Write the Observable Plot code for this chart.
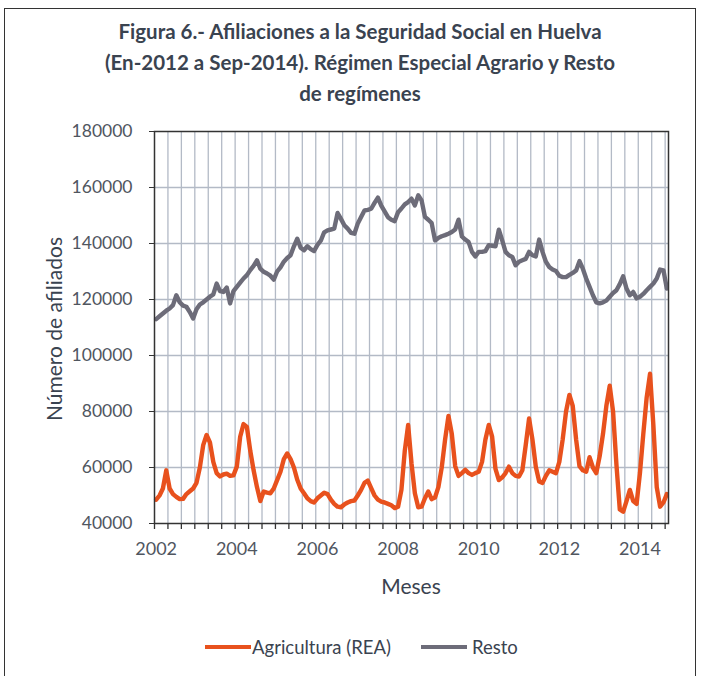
<!DOCTYPE html>
<html>
<head>
<meta charset="utf-8">
<script src="https://cdn.jsdelivr.net/npm/d3@7"></script>
<script src="https://cdn.jsdelivr.net/npm/@observablehq/plot@0.6"></script>
<style>
  html, body { margin: 0; padding: 0; background: #fff; }
  #page { position: relative; width: 702px; height: 676px; overflow: hidden; font-family: Lato, "Open Sans", sans-serif; }
  #border { position: absolute; left: 4px; top: 8px; width: 692px; height: 700px; border: 1.5px solid #333; box-sizing: border-box; }
  #title { position: absolute; left: 0; top: 16px; width: 720px; text-align: center; font-weight: 700; font-size: 20.5px; line-height: 31px; color: #3a4350; letter-spacing: 0px; }
  #chart { position: absolute; left: 0; top: 120px; }
  #ytitle { position: absolute; left: 53px; top: 329px; transform: translate(-50%, -50%) rotate(-90deg); white-space: nowrap; font-size: 21px; color: #3a4350; }
  #xtitle { position: absolute; left: 411px; top: 585px; transform: translate(-50%, -50%); font-size: 21px; color: #3a4350; }
  .sw { position: absolute; height: 4px; top: 645px; }
  .lg { position: absolute; top: 647px; transform: translateY(-50%); font-size: 18.5px; color: #3a4350; white-space: nowrap; }
</style>
</head>
<body>
<div id="page">
  <div id="border"></div>
  <div id="title"></div>
  <div id="chart"></div>
  <div id="ytitle"></div>
  <div id="xtitle"></div>
  <div id="legend"></div>
</div>
<script>
// ---- Data (monthly, Jan 2002 .. Sep 2014) ----
const titleLines = [
  "Figura 6.- Afiliaciones a la Seguridad Social en Huelva",
  "(En-2012 a Sep-2014). Régimen Especial Agrario y Resto",
  "de regímenes"
];
const yAxisTitle = "Número de afiliados";
const xAxisTitle = "Meses";
const seriesNames = ["Agricultura (REA)", "Resto"];
const seriesColors = ["#e8511d", "#6d6c79"];
const startYear = 2002;
const yearLabels = [2002, 2004, 2006, 2008, 2010, 2012, 2014];
const yTicks = [40000, 60000, 80000, 100000, 120000, 140000, 160000, 180000];

const agricultura = [
  // 2002
  48500, 50000, 52500, 59000, 52500, 50500, 49500, 48700, 48800, 50500, 51500, 52500,
  // 2003
  54500, 60000, 68000, 71600, 69000, 62000, 58000, 56800, 57500, 57800, 57000, 57200,
  // 2004
  60300, 71000, 75500, 74500, 66000, 59000, 53000, 48000, 51400, 51000, 50800, 52500,
  // 2005
  55500, 58500, 63000, 65000, 63000, 60000, 55600, 52500, 50800, 49000, 48000, 47500,
  // 2006
  49000, 50000, 51000, 50500, 48500, 47000, 46000, 45800, 46800, 47500, 48000, 48200,
  // 2007
  50000, 52000, 54500, 55300, 52600, 50000, 48500, 47800, 47500, 47000, 46500, 45500,
  // 2008
  46000, 52000, 66000, 75200, 61500, 50800, 45800, 46000, 49000, 51400, 48700, 49300,
  // 2009
  53000, 60000, 70000, 78400, 72000, 60500, 57000, 58000, 59150, 58000, 57350, 58000,
  // 2010
  58500, 62000, 70000, 75200, 71000, 59500, 55500, 56500, 58000, 60300, 58000, 57000,
  // 2011
  56800, 59000, 68000, 77500, 70000, 60300, 55000, 54500, 57000, 59000, 58500, 58000,
  // 2012
  62000, 70000, 80000, 85900, 82000, 70000, 60500, 59000, 58500, 63700, 60000, 58000,
  // 2013
  64000, 72000, 82000, 89200, 80000, 61000, 45000, 44200, 48000, 52000, 48000, 47000,
  // 2014 (Jan-Sep)
  58000, 72000, 85000, 93500, 75000, 53000, 46000, 47500, 50500
];

const resto = [
  // 2002
  113000, 114000, 115000, 116000, 116800, 118000, 121500, 119000, 117800, 117400, 115500, 113200,
  // 2003
  116500, 118200, 119000, 120000, 121000, 121800, 125700, 123000, 122700, 124300, 118600, 123000,
  // 2004
  124500, 126000, 127500, 128700, 130500, 132000, 134000, 131000, 129900, 129300, 128500, 127100,
  // 2005
  130000, 131500, 133500, 134800, 135800, 139000, 141700, 138500, 137600, 139000, 138000, 137300,
  // 2006
  139500, 141000, 144000, 144700, 145000, 145300, 150900, 148800, 146500, 145300, 143800, 143500,
  // 2007
  147100, 149500, 151800, 152000, 152400, 154500, 156400, 153500, 151500, 149400, 148500, 148000,
  // 2008
  151200, 152500, 154000, 154800, 156000, 153600, 157200, 155400, 149500, 148500, 147300, 141100,
  // 2009
  142000, 142600, 143000, 143500, 144100, 145000, 148500, 142500, 141400, 140500, 137000, 135400,
  // 2010
  137000, 137000, 137300, 139400, 139200, 139000, 144900, 141100, 137000, 135800, 135200, 132200,
  // 2011
  133500, 134000, 134500, 137000, 135800, 135400, 141400, 137000, 133500, 131600, 130700, 130200,
  // 2012
  128500, 128000, 128000, 128800, 129500, 130400, 133700, 131000, 127500, 124500, 121500, 119000,
  // 2013
  118600, 119000, 119600, 121000, 122300, 123300, 125500, 128300, 123900, 121500, 122700, 120400,
  // 2014 (Jan-Sep)
  121000, 122000, 123300, 124500, 125700, 127500, 130700, 130400, 123900
];

// ---- Build ----
document.getElementById("title").innerHTML = titleLines.map(t => `<div>${t}</div>`).join("");
document.getElementById("ytitle").textContent = yAxisTitle;
document.getElementById("xtitle").textContent = xAxisTitle;

const nMonths = agricultura.length;
const rows = [
  ...agricultura.map((v, i) => ({m: i + 0.5, value: v, series: seriesNames[0]})),
  ...resto.map((v, i) => ({m: i + 0.5, value: v, series: seriesNames[1]}))
];
const monthTicks = d3.range(0, nMonths + 1, 4);
const yearPos = yearLabels.map(y => (y - startYear) * 12 + 0.5);

const chart = Plot.plot({
  width: 702,
  height: 500,
  marginTop: 11,
  marginBottom: 97,
  marginLeft: 154,
  marginRight: 34,
  style: {fontFamily: "Lato, 'Open Sans', sans-serif", fontSize: "17.5px", color: "#50565f", background: "transparent"},
  x: {domain: [0, nMonths], label: null},
  y: {domain: [40000, 180000], label: null},
  color: {domain: seriesNames, range: seriesColors},
  marks: [
    Plot.gridX(monthTicks.filter(d => d > 0 && d < nMonths), {stroke: "#b3bac6", strokeOpacity: 1, strokeWidth: 1.3}),
    Plot.gridY(yTicks.slice(1, -1), {stroke: "#b3bac6", strokeOpacity: 1, strokeWidth: 1.3}),
    Plot.line(rows, {x: "m", y: "value", z: "series", stroke: "series", strokeWidth: 4.4, strokeLinejoin: "round", strokeLinecap: "round", curve: "linear"}),
    Plot.frame({stroke: "#333", strokeWidth: 1.5}),
    Plot.axisX(monthTicks, {tickSize: 6, tickFormat: () => "", stroke: "#333", strokeWidth: 1.3}),
    Plot.axisX(yearPos, {tickSize: 0, tickPadding: 19, tickFormat: (d, i) => String(yearLabels[i]), fontSize: 18}),
    Plot.axisY(yTicks, {tickSize: 5, tickPadding: 17, tickFormat: d => String(d), stroke: "#333", fontSize: 17.5})
  ]
});
document.getElementById("chart").appendChild(chart);

// Legend
const legend = document.getElementById("legend");
const legendPos = [{sw: 205, tx: 252}, {sw: 421, tx: 472}];
seriesNames.forEach((name, i) => {
  const s = document.createElement("div");
  s.className = "sw";
  s.style.left = legendPos[i].sw + "px";
  s.style.width = "46px";
  s.style.background = seriesColors[i];
  legend.appendChild(s);
  const t = document.createElement("div");
  t.className = "lg";
  t.style.left = legendPos[i].tx + "px";
  t.textContent = name;
  legend.appendChild(t);
});
</script>
</body>
</html>
